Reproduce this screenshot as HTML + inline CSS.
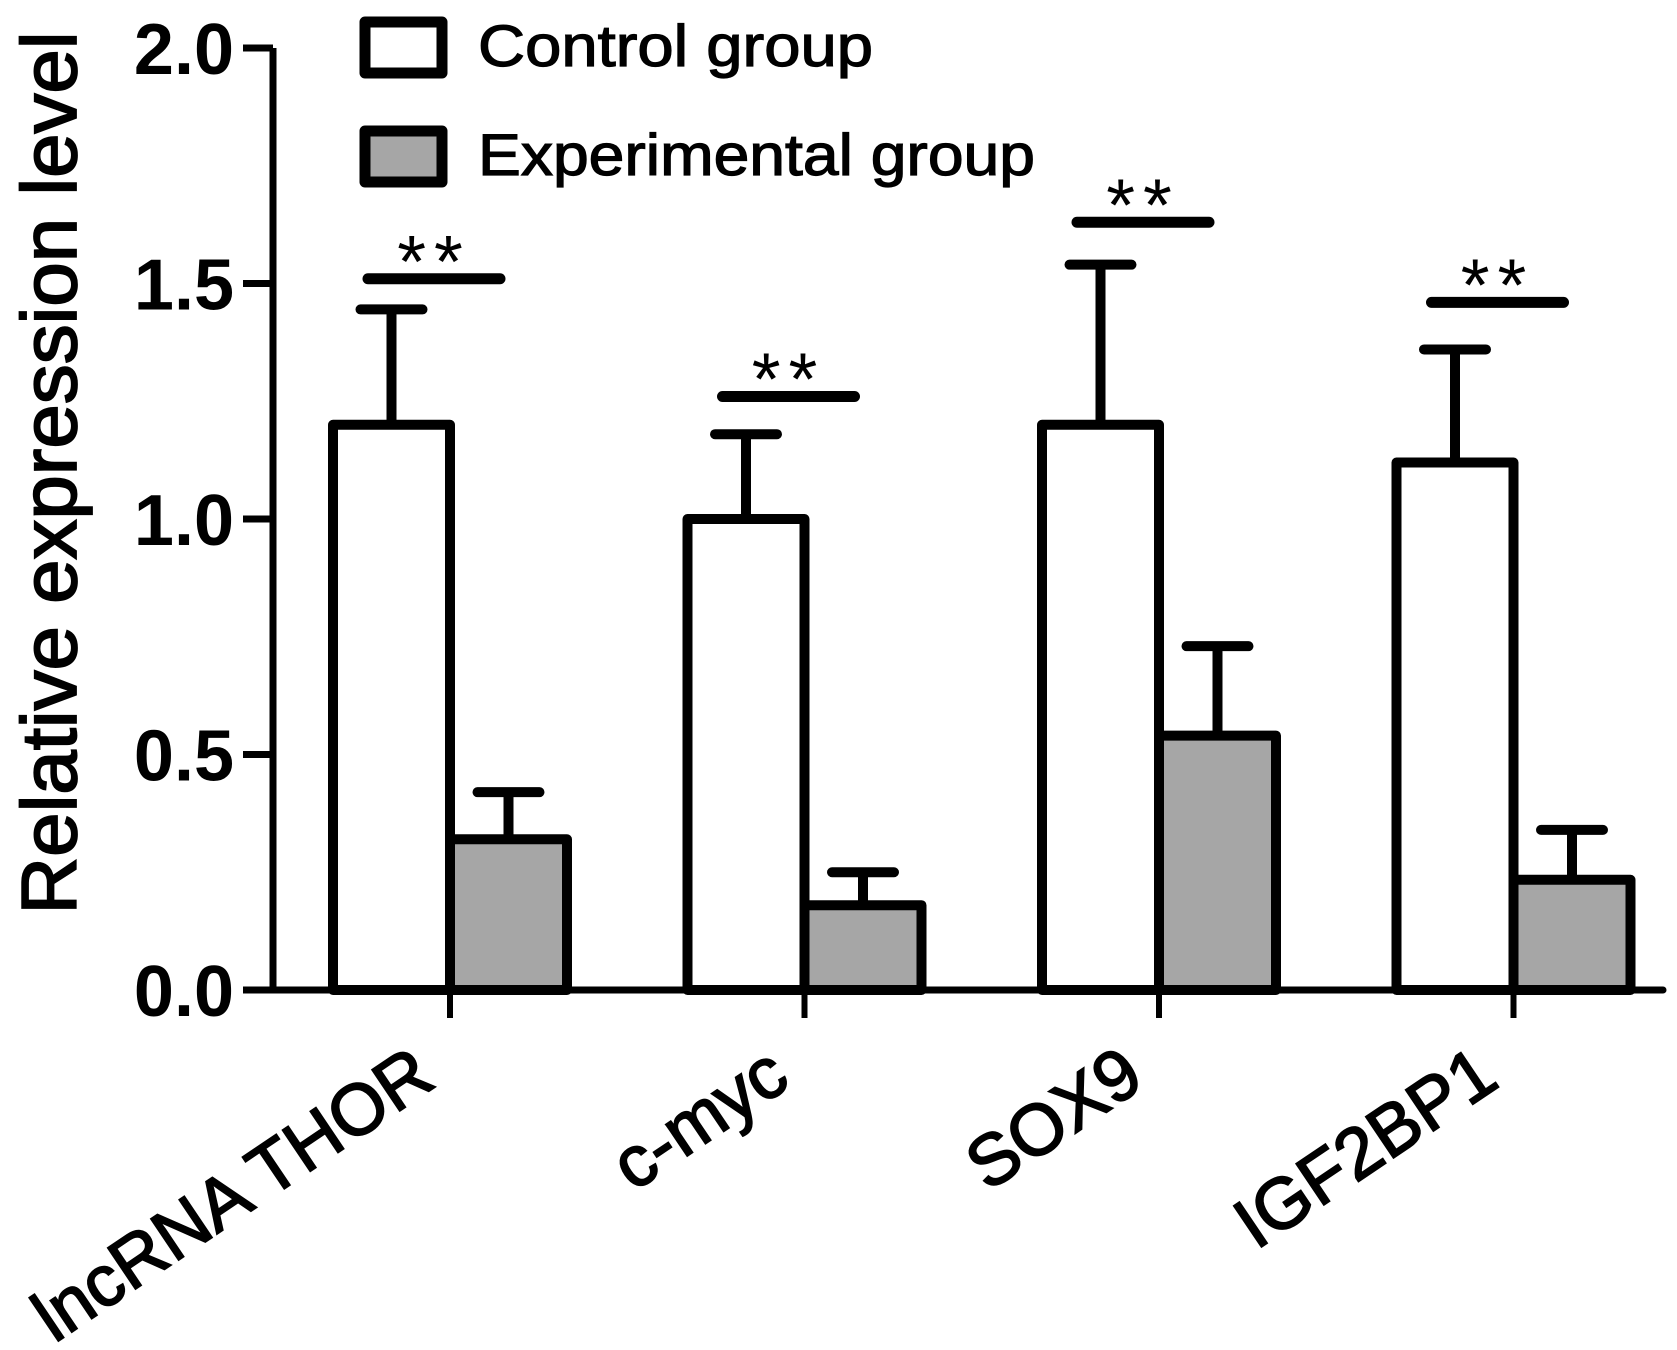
<!DOCTYPE html>
<html><head><meta charset="utf-8"><style>
html,body{margin:0;padding:0;background:#fff;}
svg{display:block;font-family:"Liberation Sans",Arial,sans-serif;}
</style></head><body>
<svg id="chart" width="1677" height="1350" viewBox="0 0 1677 1350"></svg>
<script>
const categories = ["lncRNA THOR", "c-myc", "SOX9", "IGF2BP1"];
const controlValues = [1.2, 1.0, 1.2, 1.12];
const controlErrTop = [1.445, 1.18, 1.54, 1.36];
const expValues = [0.32, 0.18, 0.54, 0.234];
const expErrTop = [0.42, 0.25, 0.73, 0.34];
const sigLevels = [1.51, 1.26, 1.63, 1.46];
const sigLabels = ["**", "**", "**", "**"];
const yTicks = [0, 0.5, 1.0, 1.5, 2.0];
const yTickLabels = ["0.0", "0.5", "1.0", "1.5", "2.0"];

const NS = "http://www.w3.org/2000/svg";
const svg = document.getElementById("chart");
const y0 = 990, yTop = 48, axisX = 273, axisRight = 1663;
const yScale = v => y0 - (v / 2.0) * (y0 - yTop);
const catCenter = i => 450 + i * 354.5;
const barW = 117;

function mk(tag, attrs, parent) {
  const e = document.createElementNS(NS, tag);
  for (const k in attrs) e.setAttribute(k, attrs[k]);
  (parent || svg).appendChild(e);
  return e;
}

categories.forEach((c, i) => {
  const cx = catCenter(i);
  const ctop = yScale(controlValues[i]);
  const cmid = cx - barW / 2;
  const eb1 = mk("path", {d: `M${cmid} ${ctop} V${yScale(controlErrTop[i])} M${cmid - 31} ${yScale(controlErrTop[i])} H${cmid + 31}`, stroke: "#000", "stroke-width": 10, "stroke-linecap": "round", fill: "none"});
  
  
  const b1 = mk("rect", {x: cx - barW, y: ctop, width: barW, height: y0 - ctop, fill: "#fff", stroke: "#000", "stroke-width": 10, "stroke-linejoin": "round"});
  
  
  const etop = yScale(expValues[i]);
  const emid = cx + barW / 2;
  const eb2 = mk("path", {d: `M${emid} ${etop} V${yScale(expErrTop[i])} M${emid - 31} ${yScale(expErrTop[i])} H${emid + 31}`, stroke: "#000", "stroke-width": 10, "stroke-linecap": "round", fill: "none"});
  
  
  const b2 = mk("rect", {x: cx, y: etop, width: barW, height: y0 - etop, fill: "#a6a6a6", stroke: "#000", "stroke-width": 10, "stroke-linejoin": "round"});
  
  
  const sy = yScale(sigLevels[i]);
  const sl = mk("line", {x1: cx - 82, x2: cx + 50, y1: sy, y2: sy, stroke: "#000", "stroke-width": 11, "stroke-linecap": "round"});
  
  
  const st = mk("text", {x: cx - 16, y: sy + 8, "text-anchor": "middle", "font-size": 74, "letter-spacing": 8});
  st.textContent = sigLabels[i];
  
  
  const xt = mk("line", {x1: cx, x2: cx, y1: y0, y2: 1018, stroke: "#000", "stroke-width": 6});
  
  
  const lx = cx - 12, ly = 1085;
  const xl = mk("text", {x: lx, y: ly, "text-anchor": "end", "font-size": 72, stroke: "#000", "stroke-width": 1.8, transform: `rotate(-34 ${lx} ${ly})`});
  xl.textContent = c;
  
  
});

const xa = mk("line", {x1: axisX, x2: axisRight, y1: y0, y2: y0, stroke: "#000", "stroke-width": 7, "stroke-linecap": "round"});


const ya = mk("line", {x1: axisX, x2: axisX, y1: yTop, y2: y0, stroke: "#000", "stroke-width": 7});


yTicks.forEach((t, i) => {
  const y = yScale(t);
  const tk = mk("line", {x1: 243, x2: axisX, y1: y, y2: y, stroke: "#000", "stroke-width": 7});
  
  
  const tl = mk("text", {x: 234, y: y + 26, "text-anchor": "end", "font-size": 72, "font-weight": "bold"});
  tl.textContent = yTickLabels[i];
  
  
});
const yt = mk("text", {x: 0, y: 0, "text-anchor": "middle", "font-size": 78, stroke: "#000", "stroke-width": 1.8, textLength: 883, lengthAdjust: "spacingAndGlyphs", transform: "translate(76 473) rotate(-90)"});
yt.textContent = "Relative expression level";



const lg1 = mk("rect", {x: 365, y: 22, width: 77, height: 51, fill: "#fff", stroke: "#000", "stroke-width": 11, "stroke-linejoin": "round"});


const lt1 = mk("text", {x: 478, y: 66, "font-size": 58, stroke: "#000", "stroke-width": 1.2, textLength: 395, lengthAdjust: "spacingAndGlyphs"});
lt1.textContent = "Control group";


const lg2 = mk("rect", {x: 365, y: 131, width: 77, height: 51, fill: "#a6a6a6", stroke: "#000", "stroke-width": 11, "stroke-linejoin": "round"});


const lt2 = mk("text", {x: 478, y: 175, "font-size": 58, stroke: "#000", "stroke-width": 1.2, textLength: 557, lengthAdjust: "spacingAndGlyphs"});
lt2.textContent = "Experimental group";


</script>
</body></html>
